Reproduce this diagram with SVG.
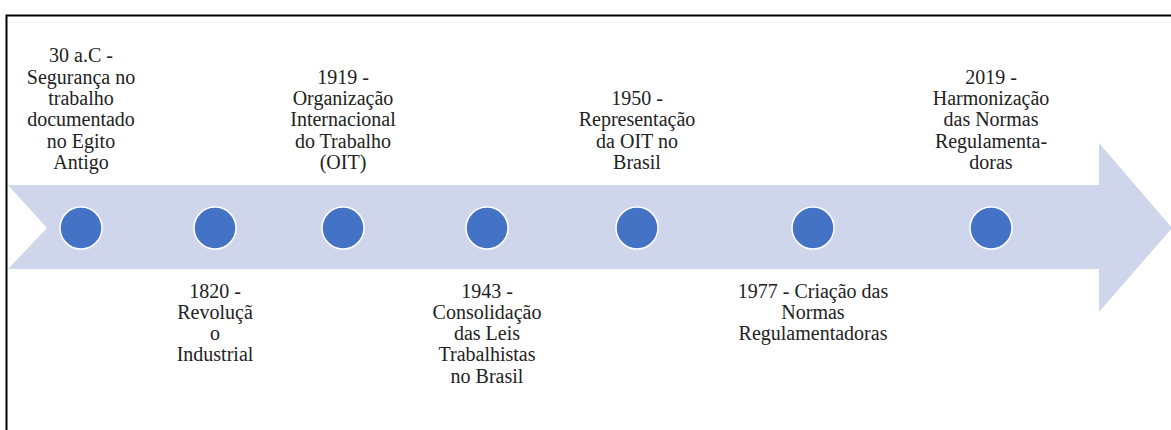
<svg xmlns="http://www.w3.org/2000/svg" width="1171" height="430" viewBox="0 0 1171 430">
<style>
.t{font-family:'Liberation Serif','Times New Roman',serif;font-size:20px;fill:#222;text-anchor:middle}
.dot{fill:#4472C4;stroke:#fff;stroke-width:1.5}
</style>
<rect x="0" y="0" width="1171" height="430" fill="#fff"/>
<path d="M6.5,432 V15.5 H1175" fill="none" stroke="#000" stroke-width="2"/>
<g id="arrow">
<polygon points="8,185 1099,185 1099,143 1172,228 1099,312 1099,269 8,269 47,228" fill="#CFD5EA"/>
</g>
<g id="n1"><circle class="dot" cx="81" cy="228" r="21"/>
<text class="t"><tspan x="81" y="62">30 a.C -</tspan><tspan x="81" y="83.5">Segurança no</tspan><tspan x="81" y="105">trabalho</tspan><tspan x="81" y="126">documentado</tspan><tspan x="81" y="147.5">no Egito</tspan><tspan x="81" y="169">Antigo</tspan></text></g>
<g id="n2"><circle class="dot" cx="215" cy="228" r="21"/>
<text class="t"><tspan x="215" y="297.5">1820 -</tspan><tspan x="215" y="319">Revoluçã</tspan><tspan x="215" y="340">o</tspan><tspan x="215" y="361">Industrial</tspan></text></g>
<g id="n3"><circle class="dot" cx="343" cy="228" r="21"/>
<text class="t"><tspan x="343" y="83.5">1919 -</tspan><tspan x="343" y="105">Organização</tspan><tspan x="343" y="126">Internacional</tspan><tspan x="343" y="147.5">do Trabalho</tspan><tspan x="343" y="169">(OIT)</tspan></text></g>
<g id="n4"><circle class="dot" cx="487" cy="228" r="21"/>
<text class="t"><tspan x="487" y="297.5">1943 -</tspan><tspan x="487" y="319">Consolidação</tspan><tspan x="487" y="340">das Leis</tspan><tspan x="487" y="361">Trabalhistas</tspan><tspan x="487" y="383">no Brasil</tspan></text></g>
<g id="n5"><circle class="dot" cx="637" cy="228" r="21"/>
<text class="t"><tspan x="637" y="105">1950 -</tspan><tspan x="637" y="126">Representação</tspan><tspan x="637" y="147.5">da OIT no</tspan><tspan x="637" y="169">Brasil</tspan></text></g>
<g id="n6"><circle class="dot" cx="813" cy="228" r="21"/>
<text class="t"><tspan x="813" y="297.5">1977 - Criação das</tspan><tspan x="813" y="319">Normas</tspan><tspan x="813" y="340">Regulamentadoras</tspan></text></g>
<g id="n7"><circle class="dot" cx="991" cy="228" r="21"/>
<text class="t"><tspan x="991" y="83.5">2019 -</tspan><tspan x="991" y="105">Harmonização</tspan><tspan x="991" y="126">das Normas</tspan><tspan x="991" y="147.5">Regulamenta-</tspan><tspan x="991" y="169">doras</tspan></text></g>
<g id="connectors"></g>
</svg>
